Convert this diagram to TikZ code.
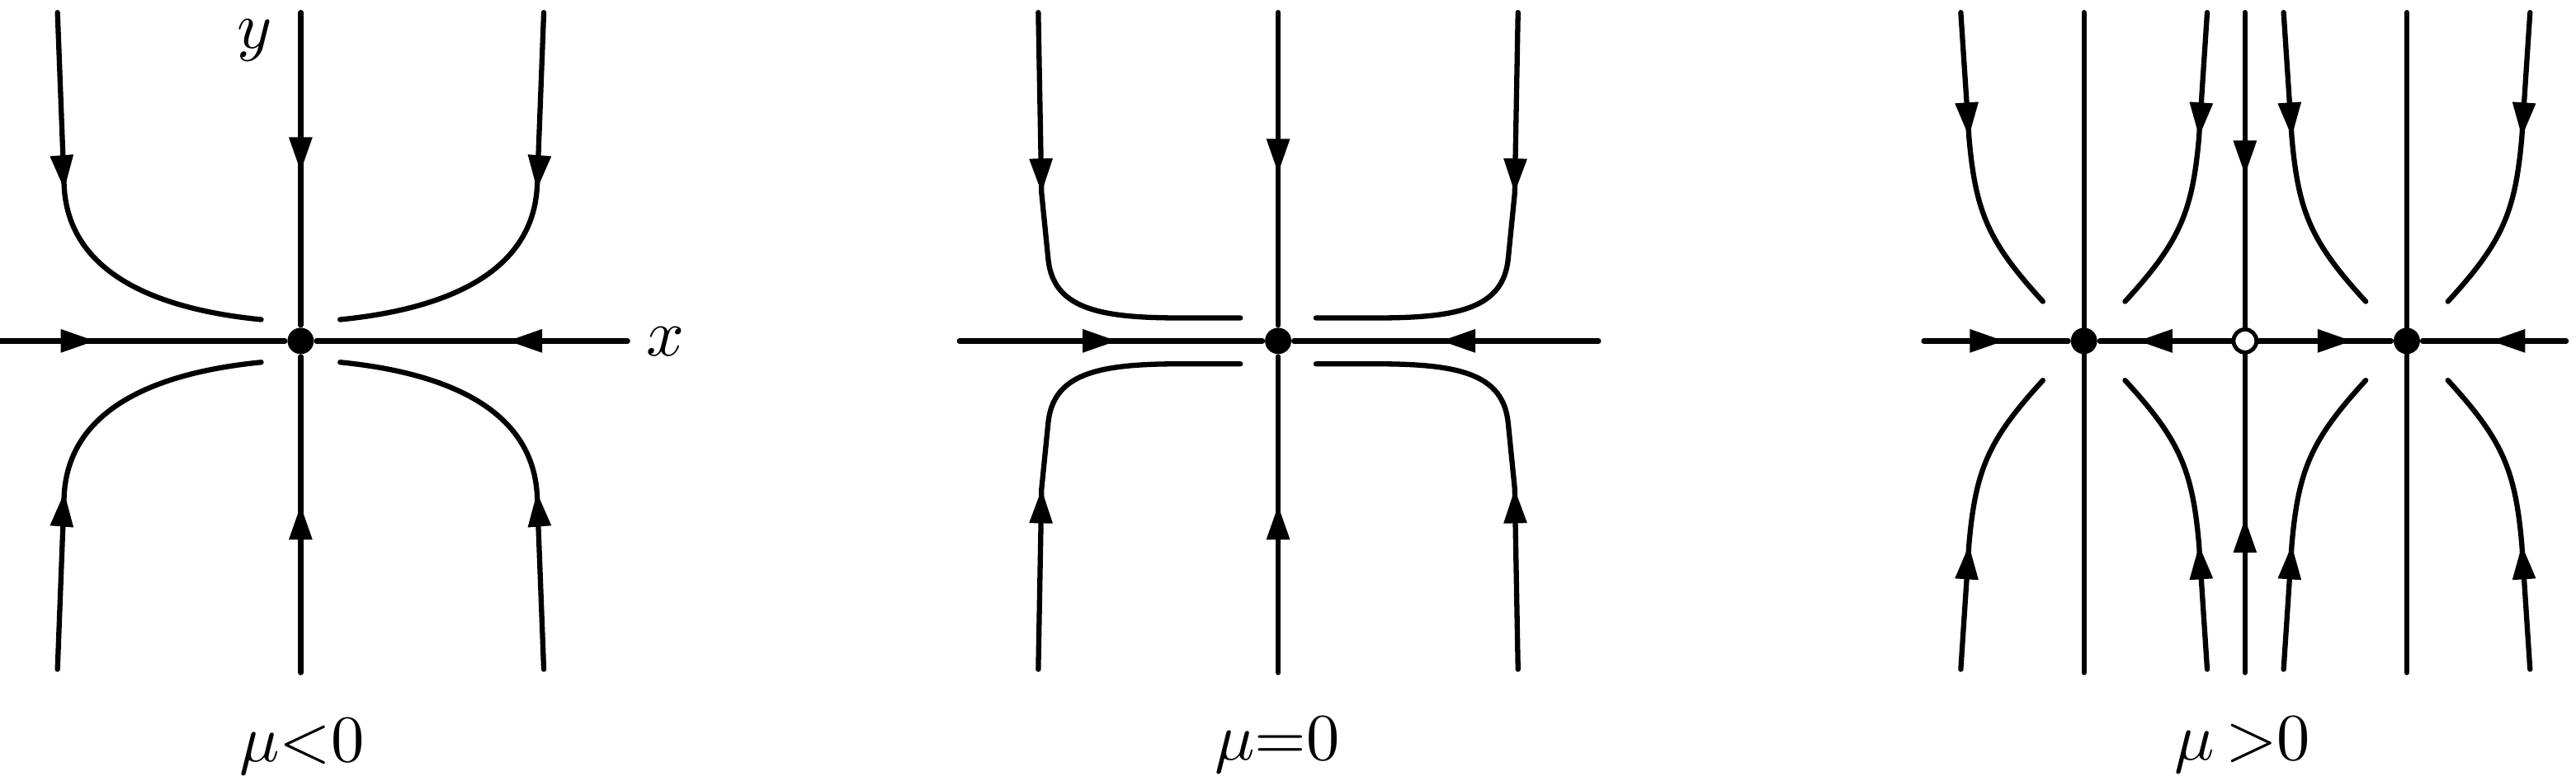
\RequirePackage{fix-cm}
\documentclass[tikz,border=0pt]{standalone}
\usetikzlibrary{arrows.meta, decorations.markings}
\tikzset{
  every picture/.style={line width=0.9pt, line cap=round, line join=round},
  orbit/.style={postaction={decorate}, decoration={markings, mark=at position #1 with {\arrow{Triangle[length=2.1mm, width=1.35mm]}}}},
  sink/.style={circle, fill=black, inner sep=0pt, minimum size=1.6mm},
  source/.style={circle, draw=black, fill=white, line width=0.7pt, inner sep=0pt, minimum size=1.4mm},
  lab/.style={font=\fontsize{11.5}{14}\selectfont, anchor=base, inner sep=1pt},
}

\begin{document}
\begin{tikzpicture}
  \useasboundingbox (0,0) rectangle (15.68,4.756);
  \node[sink] (s1) at (1.83,2.68) {};
  \node[sink] (s2) at (7.78,2.68) {};
  \node[sink] (l) at (12.685,2.68) {};
  \node[source] (m) at (13.665,2.68) {};
  \node[sink] (r) at (14.65,2.68) {};

  \begin{scope}[shift={(s1)}]
    \draw[orbit=0.58cm] (-1.83,0) -- (s1);
    \draw[orbit=0.73cm] (1.99,0) -- (s1);
    \draw[orbit=0.97cm] (0,2.0) -- (s1);
    \draw[orbit=1.02cm] (0,-2.02) -- (s1);
    \foreach \sx in {1,-1} \foreach \sy in {1,-1}
      \draw[orbit=1.08cm, xscale=\sx, yscale=\sy] (-1.48,2.0) -- (-1.44,0.95) .. controls (-1.42,0.45) and (-0.95,0.20) .. (-0.24,0.13);
  \end{scope}

  \begin{scope}[shift={(s2)}]
    \draw[orbit=0.96cm] (-1.94,0) -- (s2);
    \draw[orbit=0.96cm] (1.95,0) -- (s2);
    \draw[orbit=0.98cm] (0,2.0) -- (s2);
    \draw[orbit=1.02cm] (0,-2.02) -- (s2);
    \foreach \sx in {1,-1} \foreach \sy in {1,-1}
      \draw[orbit=1.1cm, xscale=\sx, yscale=\sy] (-1.46,2.0) -- (-1.44,0.9) -- (-1.40,0.5) .. controls (-1.37,0.2) and (-1.1,0.14) .. (-0.6,0.14) -- (-0.23,0.14);
  \end{scope}

  \draw[orbit=0.49cm] (11.71,2.68) -- (l);
  \draw[orbit=0.57cm] (m) -- (l);
  \draw[orbit=0.57cm] (m) -- (r);
  \draw[orbit=0.46cm] (15.62,2.68) -- (r);
  \foreach \n in {l,r}
    \draw ([yshift=2cm]\n.center) -- ([yshift=-2.02cm]\n.center);
  \draw[orbit=0.99cm] ([yshift=2cm]m.center) -- (m);
  \draw[orbit=0.94cm] ([yshift=-2.02cm]m.center) -- (m);
  \foreach \n in {l,r} \foreach \sx in {1,-1} \foreach \sy in {1,-1}
    \draw[orbit=0.76cm, shift={(\n)}, xscale=\sx, yscale=\sy] (-0.75,2.0) -- (-0.7,1.24) .. controls (-0.66,0.78) and (-0.58,0.6) .. (-0.25,0.24);

  \node[lab] (xl) at (4.05,2.59) {$x$};
  \node[lab] (yl) at (1.55,4.46) {$y$};
  \node[lab] (t1) at (1.838,0.12) {$\mu{<}0$};
  \node[lab] (t2) at (7.775,0.13) {$\mu{=}0$};
  \node[lab] (t3) at (13.65,0.13) {$\mu\,{>}0$};
\end{tikzpicture}
\end{document}
